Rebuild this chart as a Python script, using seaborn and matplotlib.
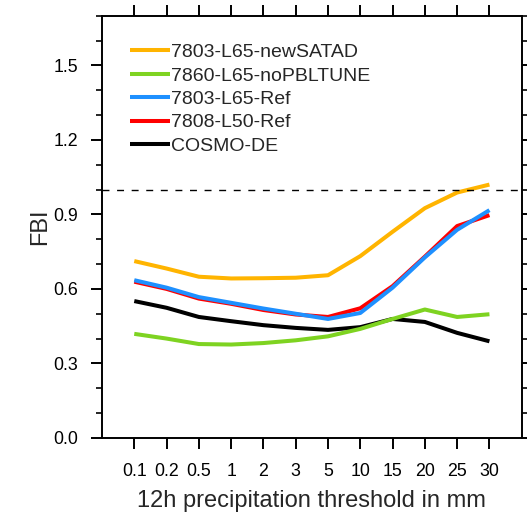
import numpy as np
import pandas as pd
import matplotlib
matplotlib.use("Agg")
import matplotlib.pyplot as plt
import seaborn as sns
from matplotlib.ticker import MultipleLocator, FormatStrFormatter

thresholds = ["0.1", "0.2", "0.5", "1", "2", "3", "5", "10", "15", "20", "25", "30"]
newsatad = [0.712, 0.682, 0.649, 0.642, 0.643, 0.645, 0.655, 0.732, 0.830, 0.925, 0.988, 1.020]
nopbltune = [0.419, 0.400, 0.378, 0.376, 0.382, 0.393, 0.409, 0.439, 0.479, 0.517, 0.487, 0.498]
ref_l65 = [0.635, 0.605, 0.567, 0.544, 0.521, 0.500, 0.479, 0.503, 0.605, 0.727, 0.838, 0.917]
ref_l50 = [0.629, 0.600, 0.561, 0.540, 0.515, 0.497, 0.487, 0.522, 0.611, 0.730, 0.853, 0.897]
cosmo = [0.551, 0.524, 0.487, 0.470, 0.454, 0.443, 0.435, 0.446, 0.479, 0.467, 0.423, 0.389]

names = ["7803-L65-newSATAD", "7860-L65-noPBLTUNE", "7803-L65-Ref", "7808-L50-Ref", "COSMO-DE"]
series = [newsatad, nopbltune, ref_l65, ref_l50, cosmo]
colors = ["#FFB400", "#7ED321", "#1E90FF", "#FF0000", "#000000"]

rows = []
for n, vals in zip(names, series):
    for i, v in enumerate(vals):
        rows.append({"pos": i, "FBI": v, "run": n})
df = pd.DataFrame(rows)

sns.set_style("ticks")
plt.rcParams["font.family"] = ["Liberation Sans", "DejaVu Sans"]

fig = plt.figure(figsize=(5.27, 5.14), dpi=100)
ax = fig.add_axes([0.1935, 0.148, 0.7965, 0.8215])

draw_order = ["COSMO-DE", "7808-L50-Ref", "7803-L65-Ref", "7860-L65-noPBLTUNE", "7803-L65-newSATAD"]
pal = dict(zip(names, colors))
for n in draw_order:
    sub = df[df["run"] == n]
    sns.lineplot(data=sub, x="pos", y="FBI", color=pal[n], lw=2.9, ax=ax,
                 label=n, sort=False, solid_capstyle="butt")

ax.axhline(1.0, color="black", lw=1.0, ls=(0, (5, 5.5)), zorder=5)

ax.set_xlim(-1, 12)
ax.set_ylim(0, 1.7)
ax.set_xticks(range(len(thresholds)))
ax.set_xticklabels(thresholds)
ax.yaxis.set_major_locator(MultipleLocator(0.3))
ax.yaxis.set_minor_locator(MultipleLocator(0.1))
ax.yaxis.set_major_formatter(FormatStrFormatter("%.1f"))

for s in ax.spines.values():
    s.set_visible(True)
    s.set_linewidth(1.4)
    s.set_color("black")

ax.tick_params(axis="both", which="major", direction="out", length=8, width=1.4,
               labelsize=12.8, colors="black", top=True, right=True)
ax.tick_params(axis="y", which="minor", direction="out", length=4, width=1.4, right=True)
ax.tick_params(axis="y", which="major", pad=9)
ax.tick_params(axis="x", which="major", pad=10)

ax.set_xlabel("12h precipitation threshold in mm", fontsize=17)
ax.set_ylabel("FBI", fontsize=17)
ax.xaxis.set_label_coords(0.5, -0.124)
ax.yaxis.set_label_coords(-0.12, 0.5)

handles, labels = ax.get_legend_handles_labels()
hmap = dict(zip(labels, handles))
leg = ax.legend([hmap[n] for n in names], names, loc="upper left",
                bbox_to_anchor=(0.0667, 0.934), frameon=False, fontsize=14,
                handlelength=2.05, handletextpad=0.05, labelspacing=0.3,
                borderpad=0, borderaxespad=0)

fig.savefig("out.png", dpi=100, facecolor="white")
